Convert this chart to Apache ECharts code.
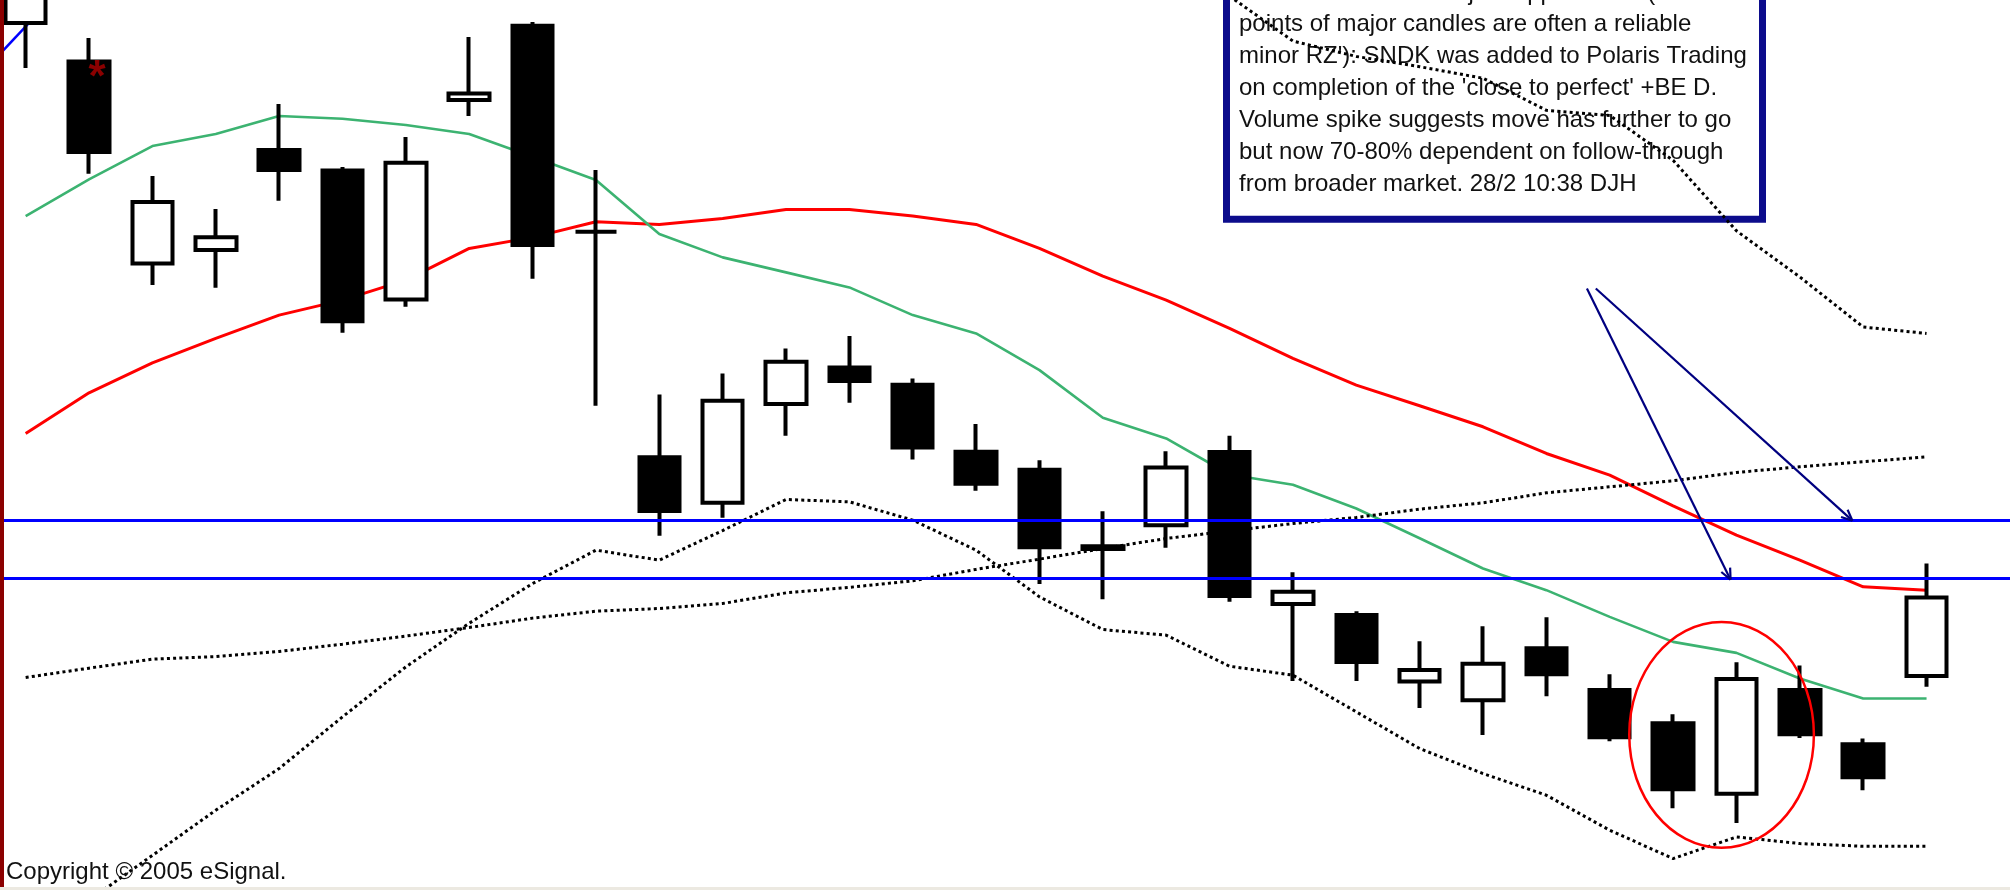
<!DOCTYPE html>
<html><head><meta charset="utf-8">
<script src="https://cdn.jsdelivr.net/npm/echarts@6/dist/echarts.min.js"></script>
<style>html,body{margin:0;padding:0;background:#fff;overflow:hidden}#c{width:2010px;height:890px;}</style>
</head><body><div id="c"></div>
<script>
// ---- data (bar index, price) ----
const bars = [0,1,2,3,4,5,6,7,8,9,10,11,12,13,14,15,16,17,18,19,20,21,22,23,24,25,26,27,28,29,30];
const opens  = [29.82,29.52,27.945,28.05,28.83,28.67,27.665,29.22,29.80,28.193,26.435,26.08,26.85,27.135,27.00,26.477,26.337,25.74,25.905,26.475,25.29,25.205,24.685,24.54,24.945,24.62,24.36,23.81,24.62,24.196,24.728];
const closes = [30.20,28.815,28.425,28.15,28.675,27.495,28.73,29.27,28.09,28.193,26.015,26.875,27.18,27.03,26.51,26.227,25.733,25.72,26.355,25.352,25.385,24.837,24.775,24.825,24.742,24.252,23.846,24.705,24.275,23.94,25.34];
const lows   = [29.47,28.645,27.777,27.756,28.435,27.405,27.608,29.095,27.826,26.836,25.822,25.962,26.602,26.86,26.417,26.173,25.447,25.328,25.728,25.307,24.69,24.69,24.48,24.269,24.571,24.22,23.697,23.583,24.246,23.838,24.644];
const highs  = [30.40,29.704,28.627,28.37,29.189,28.697,28.931,29.711,29.828,28.674,26.924,27.088,27.283,27.38,27.049,26.693,26.412,26.014,26.482,26.602,25.538,25.234,25.00,25.117,25.187,24.743,24.43,24.836,24.81,24.241,25.606];
const maGreen = [28.315,28.601,28.861,28.955,29.095,29.074,29.025,28.955,28.778,28.596,28.175,27.993,27.876,27.759,27.543,27.40,27.114,26.742,26.581,26.30,26.22,26.035,25.803,25.567,25.398,25.19,24.995,24.909,24.709,24.553,24.553];
const maRed   = [26.62,26.937,27.171,27.361,27.543,27.66,27.816,28.063,28.149,28.271,28.25,28.297,28.367,28.367,28.315,28.25,28.063,27.847,27.66,27.439,27.205,26.997,26.836,26.672,26.464,26.295,26.056,25.827,25.632,25.424,25.398];
const dotMid  = [24.717,24.79,24.86,24.88,24.92,24.977,25.04,25.107,25.18,25.234,25.255,25.294,25.377,25.42,25.471,25.56,25.64,25.723,25.801,25.86,25.918,25.965,26.03,26.079,26.157,26.204,26.251,26.316,26.36,26.399,26.438];
const dotLow  = [null,22.98,23.33,23.682,24.007,24.41,24.80,25.14,25.45,25.71,25.632,25.863,26.105,26.087,25.944,25.71,25.346,25.091,25.047,24.805,24.735,24.449,24.163,23.968,23.799,23.526,23.305,23.474,23.422,23.401,23.401];
const dotUpBars = [19,20,21,22,23,24,25,26,27,28,29,30];
const dotUp     = [30.03,29.68,29.56,29.48,29.39,29.14,29.10,28.75,28.20,27.84,27.45,27.40];
const levels = [25.939, 25.494];
const trendTopLeft = [[-0.405, 29.58], [0.032, 29.81]];
const arrows = [[24.64, 27.75, 26.907, 25.48], [24.78, 27.75, 28.83, 25.94]];
const ellipse = [[26.765, 24.27, 1.457, 0.88]];
const star = [[1.125, 29.467]];
const noteLines = [
  "Bounced from the major support zone (mid-",
  "points of major candles are often a reliable",
  "minor RZ'): SNDK was added to Polaris Trading",
  "on completion of the 'close to perfect' +BE D.",
  "Volume spike suggests move has further to go",
  "but now 70-80% dependent on follow-through",
  "from broader market. 28/2 10:38 DJH"
];
const copyright = "Copyright \u00A9 2005 eSignal.";

// ---- chart ----
const FONT = '"Liberation Sans", Arial, sans-serif';
const chart = echarts.init(document.getElementById('c'), null, {renderer: 'canvas'});
const pairs = (xs, ys) => xs.map((x, i) => [x, ys[i]]);
const dotted = {color: '#000', width: 3, type: [3, 3.2], cap: 'butt'};

chart.setOption({
  animation: false,
  backgroundColor: '#ffffff',
  grid: {left: 0, right: 0, top: 0, bottom: 0},
  xAxis: {type: 'value', min: -0.405, max: 31.317, show: false},
  yAxis: {type: 'value', min: 23.06, max: 30, show: false, splitLine: {show: false}},
  graphic: [
    {type: 'rect', z: 1, shape: {x: 1226.5, y: -20, width: 536, height: 239.2},
     style: {fill: '#ffffff', stroke: '#0c0c8c', lineWidth: 7}},
    {type: 'text', z: 1, x: 1239, y: -23,
     style: {text: noteLines.join('\n'), font: '24px ' + FONT, fill: '#111', lineHeight: 31.9, verticalAlign: 'top'}},
    {type: 'rect', z: 100, shape: {x: 0, y: 0, width: 4, height: 890}, style: {fill: '#8b0000'}},
    {type: 'rect', z: 100, shape: {x: 0, y: 887, width: 2010, height: 3}, style: {fill: '#ece9e1'}},
    {type: 'text', z: 100, x: 6, y: 872,
     style: {text: copyright, font: '24px ' + FONT, fill: '#111', verticalAlign: 'middle'}}
  ],
  series: [
    {type: 'line', data: pairs(bars, maRed), symbol: 'none', z: 2,
     lineStyle: {color: '#ff0000', width: 3}},
    {type: 'line', data: pairs(bars, maGreen), symbol: 'none', z: 2,
     lineStyle: {color: '#3cb371', width: 2.6}},
    {type: 'line', data: pairs(bars, dotMid), symbol: 'none', z: 2, lineStyle: dotted},
    {type: 'line', data: pairs(bars, dotLow), symbol: 'none', z: 2, lineStyle: dotted},
    {type: 'line', data: pairs(dotUpBars, dotUp), symbol: 'none', z: 2, lineStyle: dotted},
    {type: 'line', data: trendTopLeft, symbol: 'none', z: 2, lineStyle: {color: '#0000ff', width: 2.5}},
    {type: 'candlestick', z: 3,
     data: bars.map((x, i) => [x, opens[i], closes[i], lows[i], highs[i]]),
     encode: {x: 0, y: [1, 2, 3, 4]},
     barWidth: 41,
     itemStyle: {color: '#ffffff', color0: '#000000', borderColor: '#000000', borderColor0: '#000000',
                 borderColorDoji: '#000000', borderWidth: 4},
     markLine: {silent: true, symbol: ['none', 'none'], label: {show: false}, z: 6,
                lineStyle: {color: '#0000ff', width: 3, type: 'solid'},
                data: levels.map(v => ({yAxis: v}))}},
    {type: 'custom', z: 6, data: ellipse,
     renderItem: (p, api) => {
       const c = api.coord([api.value(0), api.value(1)]);
       const s = api.size([api.value(2), api.value(3)], [api.value(0), api.value(1)]);
       return {type: 'ellipse', shape: {cx: c[0], cy: c[1], rx: s[0], ry: s[1]},
               style: {fill: 'none', stroke: '#ff0000', lineWidth: 2.5}};
     }},
    {type: 'custom', z: 7, data: arrows,
     renderItem: (p, api) => {
       const a = api.coord([api.value(0), api.value(1)]);
       const b = api.coord([api.value(2), api.value(3)]);
       const ang = Math.atan2(b[1] - a[1], b[0] - a[0]);
       const L = 12, w = 0.42;
       const st = {stroke: '#000080', lineWidth: 2.2};
       return {type: 'group', children: [
         {type: 'line', shape: {x1: a[0], y1: a[1], x2: b[0], y2: b[1]}, style: st},
         {type: 'line', shape: {x1: b[0], y1: b[1], x2: b[0] - L * Math.cos(ang - w), y2: b[1] - L * Math.sin(ang - w)}, style: st},
         {type: 'line', shape: {x1: b[0], y1: b[1], x2: b[0] - L * Math.cos(ang + w), y2: b[1] - L * Math.sin(ang + w)}, style: st}
       ]};
     }},
    {type: 'custom', z: 7, data: star,
     renderItem: (p, api) => {
       const c = api.coord([api.value(0), api.value(1)]);
       return {type: 'text', x: c[0], y: c[1] + 11,
               style: {text: '*', font: 'bold 44px ' + FONT, fill: '#8b0000', align: 'center', verticalAlign: 'middle'}};
     }}
  ]
});
</script>
</body></html>
